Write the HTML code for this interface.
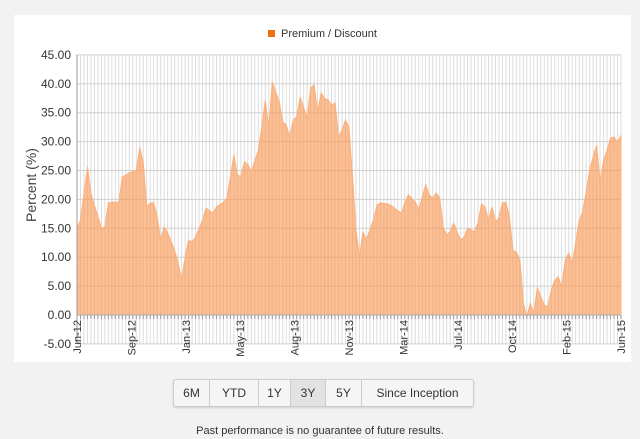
<!DOCTYPE html>
<html><head><meta charset="utf-8">
<style>
html,body{margin:0;padding:0;width:640px;height:439px;overflow:hidden;background:#f2f2f2;font-family:"Liberation Sans",Arial,sans-serif;}
#panel{position:absolute;left:14px;top:15px;width:617px;height:347px;background:#fff;}
#btns{position:absolute;left:173px;top:379px;height:26px;display:flex;border:1px solid #ccc;border-radius:3px;box-shadow:0 1px 2px rgba(0,0,0,0.15);background:#f5f5f5;}
#btns div{font-size:12px;color:#333;line-height:26px;text-align:center;border-right:1px solid #ccc;}
#btns div:last-child{border-right:none;}
#btns .act{background:#e2e2e2;}
#foot{position:absolute;left:0;width:640px;top:425px;text-align:center;font-size:11px;color:#333;}
</style></head><body>
<div id="panel"></div>
<svg id="chart" width="640" height="439" style="position:absolute;left:0;top:0"></svg>
<div id="btns">
<div style="width:35px">6M</div>
<div style="width:48px">YTD</div>
<div style="width:31px">1Y</div>
<div style="width:34px" class="act">3Y</div>
<div style="width:35px">5Y</div>
<div style="width:111px">Since Inception</div>
</div>
<div id="foot">Past performance is no guarantee of future results.</div>
<script>
const weeks=[0,1,3,4,6,7,8,9,10,12,13,14,15,17,18,19,20,21,22,23,24,25,26,28,29,30,31,32,33,34,36,37,39,40,42,43,44,45,46,47,48,49,50,52,53,54,55,56,58,59,60,61,62,63,64,66,67,68,69,70,71,72,73,74,75,76,77,78,79,80,81,82,83,85,86,87,89,90,91,93,94,95,97,98,99,100,101,102,103,104,105,106,107,108,109,110,111,112,114,115,116,117,118,119,120,121,122,123,124,125,126,127,128,129,130,131,132,133,134,135,136,137,138,139,140,141,142,143,144,145,146,147,148,149,150,151,152,153,154,155,156];
const values=[15.0,16.4,25.6,21.0,17.0,15.0,15.2,19.4,19.5,19.5,23.9,24.2,24.6,25.0,29.0,26.3,18.7,19.4,19.4,17.0,13.0,15.2,14.2,11.2,9.0,6.0,10.0,13.0,12.6,13.5,16.4,18.5,17.6,18.7,19.5,20.2,23.9,27.7,24.2,24.0,26.5,26.0,24.8,28.5,32.5,37.2,32.3,40.3,36.8,33.4,32.9,30.8,33.7,34.3,37.7,34.0,39.3,39.8,35.1,38.4,37.5,37.2,36.3,36.7,30.8,32.0,33.7,32.5,23.9,14.7,10.0,14.4,13.0,16.4,19.0,19.4,19.2,19.0,18.5,17.6,19.4,20.8,19.5,18.2,20.4,22.5,20.8,20.2,21.1,20.2,15.2,13.8,14.4,15.9,14.4,13.0,13.5,15.0,14.4,15.9,19.2,18.7,16.4,18.7,16.1,16.8,19.4,19.5,17.0,11.2,10.9,9.5,2.0,-0.3,2.0,0.3,4.7,3.2,1.7,1.4,4.3,6.0,6.6,4.9,9.5,10.7,9.0,12.5,16.4,17.8,21.1,25.1,27.3,29.4,22.8,26.8,28.5,30.6,30.8,29.9,31.1,32.3,34.0,34.3,35.1,36.7];
const yTicks=[-5,0,5,10,15,20,25,30,35,40,45];
const xLabels=["Jun-12","Sep-12","Jan-13","May-13","Aug-13","Nov-13","Mar-14","Jul-14","Oct-14","Feb-15","Jun-15"];
const xLabelWeeks=[0,15.6,31.2,46.8,62.4,78,93.6,109.2,124.8,140.4,156];
const NW=157;
const X0=77,X1=621,Y0=315,PX=5.78;
const NS="http://www.w3.org/2000/svg";
const svg=document.getElementById('chart');
function xs(w){return X0+w*(X1-X0)/(NW-1);}
function ys(v){return Y0-v*PX;}
function mk(t,a){const e=document.createElementNS(NS,t);for(const k in a)e.setAttribute(k,a[k]);svg.appendChild(e);return e;}
// vertical grid
for(let i=0;i<NW;i++){
 const l=mk('line',{x1:xs(i),x2:xs(i),y1:ys(45),y2:ys(-5),stroke:'#dcdcdc','stroke-width':1});
 
 
}
yTicks.forEach(v=>{
 const l=mk('line',{x1:X0,x2:X1,y1:ys(v),y2:ys(v),stroke:'#d0d0d0','stroke-width':1});
 
 
 const t=mk('text',{x:71,y:ys(v)+4,'text-anchor':'end','font-size':12,fill:'#333'});
 t.textContent=v.toFixed(2);
 
 
});
// area
let d='M'+xs(weeks[0])+','+ys(0);
weeks.forEach((w,i)=>{d+=' L'+xs(w).toFixed(1)+','+ys(values[i]).toFixed(1);});
d+=' L'+xs(weeks[weeks.length-1])+','+ys(0)+' Z';
const a=mk('path',{d:d,fill:'#fa9650','fill-opacity':0.62,stroke:'#fbb07c','stroke-width':1});


// axes
const ax=mk('line',{x1:X0,x2:X0,y1:ys(45),y2:ys(-5),stroke:'#999','stroke-width':1});


for(let i=0;i<NW;i++){
 const t=mk('line',{x1:xs(i),x2:xs(i),y1:ys(0),y2:ys(0)+4,stroke:'#999','stroke-width':1});
 
 
}
const zl=mk('line',{x1:X0,x2:X1,y1:ys(0),y2:ys(0),stroke:'#aaa','stroke-width':1});


xLabels.forEach((s,i)=>{
 const x=xs(xLabelWeeks[i])+4,y=320;
 const t=mk('text',{x:x,y:y,'text-anchor':'end','font-size':11,fill:'#333',transform:'rotate(-90 '+x+' '+y+')'});
 t.textContent=s;
 
 
});
const yt=mk('text',{x:36,y:185,'text-anchor':'middle','font-size':14,fill:'#444',transform:'rotate(-90 36 185)'});
yt.textContent='Percent (%)';


const lm=mk('rect',{x:268,y:30,width:7,height:7,fill:'#f07010'});


const lt=mk('text',{x:281,y:37,'font-size':11,fill:'#333'});
lt.textContent='Premium / Discount';


</script>
</body></html>
